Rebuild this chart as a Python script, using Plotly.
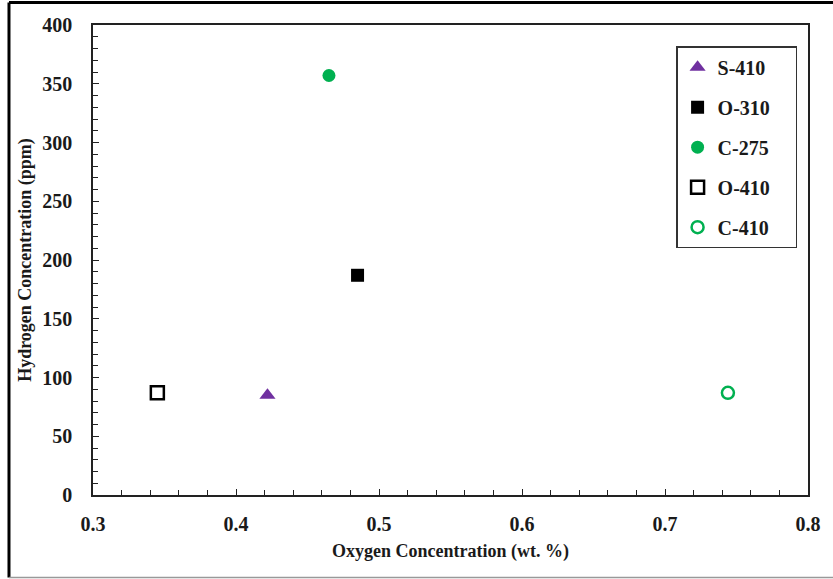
import plotly.graph_objects as go

# Sample data: oxygen vs hydrogen concentration
names = ["S-410", "O-310", "C-275", "O-410", "C-410"]
oxygen_wt = [0.422, 0.485, 0.465, 0.345, 0.744]
hydrogen_ppm = [85, 187, 357, 87, 87]
symbols = ["triangle-up", "square", "circle", "square-open", "circle-open"]
colors = ["#7030A0", "#000000", "#00B050", "#000000", "#00B050"]
sizes = [14, 13, 13, 13, 12]

x_ticks = [0.3, 0.4, 0.5, 0.6, 0.7, 0.8]
y_ticks = [0, 50, 100, 150, 200, 250, 300, 350, 400]

FONT = "Liberation Serif"
TXT = "#1a1a1a"
PAD = "&nbsp;" * 4  # extra room on the right of legend entries

fig = go.Figure()
for i, n in enumerate(names):
    fig.add_trace(go.Scatter(
        x=[oxygen_wt[i]], y=[hydrogen_ppm[i]], mode="markers", name=f"<b>{n}</b>{PAD}",
        legendgroup=n,
        marker=dict(symbol=symbols[i], color=colors[i], size=sizes[i],
                    line=dict(color=colors[i], width=2.5 if "open" in symbols[i] else 0)),
    ))

axis_common = dict(
    showline=True, linecolor="#222", linewidth=1.5, mirror=True,
    ticks="inside", ticklen=6, tickwidth=1.3, tickcolor="#222",
    showgrid=False, zeroline=False,
    tickfont=dict(family=FONT, size=20, color=TXT),
)

fig.update_xaxes(
    range=[0.3, 0.8], tickvals=x_ticks, ticktext=[f"<b>{v:.1f}</b>" for v in x_ticks],
    minor=dict(dtick=0.02, ticks="inside", ticklen=5, tickwidth=1.3, tickcolor="#222"),
    title=dict(text="<b>Oxygen Concentration (wt. %)</b>", standoff=11,
               font=dict(family=FONT, size=18, color=TXT)),
    ticklabelstandoff=10,
    **axis_common,
)
fig.update_yaxes(
    range=[0, 400], tickvals=y_ticks, ticktext=[f"<b>{v}</b>" for v in y_ticks],
    minor=dict(dtick=10, ticks="inside", ticklen=5, tickwidth=1.3, tickcolor="#222"),
    title=dict(text="<b>Hydrogen Concentration (ppm)</b>", standoff=6,
               font=dict(family=FONT, size=18, color=TXT)),
    ticklabelstandoff=15,
    **axis_common,
)

# outer frame around the figure (top, left, bottom)
frame = [
    dict(x0=-0.1175, x1=1.2, y0=1.0479, y1=1.0479, color="#000", w=3),
    dict(x0=-0.1175, x1=-0.1175, y0=1.0479, y1=-0.1755, color="#000", w=3),
    dict(x0=-0.1175, x1=1.2, y0=-0.1755, y1=-0.1755, color="#999", w=1.5),
]
for f in frame:
    fig.add_shape(type="line", xref="paper", yref="paper",
                  x0=f["x0"], x1=f["x1"], y0=f["y0"], y1=f["y1"],
                  line=dict(color=f["color"], width=f["w"]))

fig.update_layout(
    width=833, height=579,
    margin=dict(l=93, r=21, t=25, b=84),
    paper_bgcolor="white", plot_bgcolor="white",
    showlegend=True,
    legend=dict(
        x=0.8155, y=0.955, xanchor="left", yanchor="top",
        bgcolor="white", bordercolor="#333", borderwidth=1.5,
        font=dict(family=FONT, size=20, color=TXT),
        tracegroupgap=11, itemsizing="trace",
    ),
)

fig.write_html("out.html")
